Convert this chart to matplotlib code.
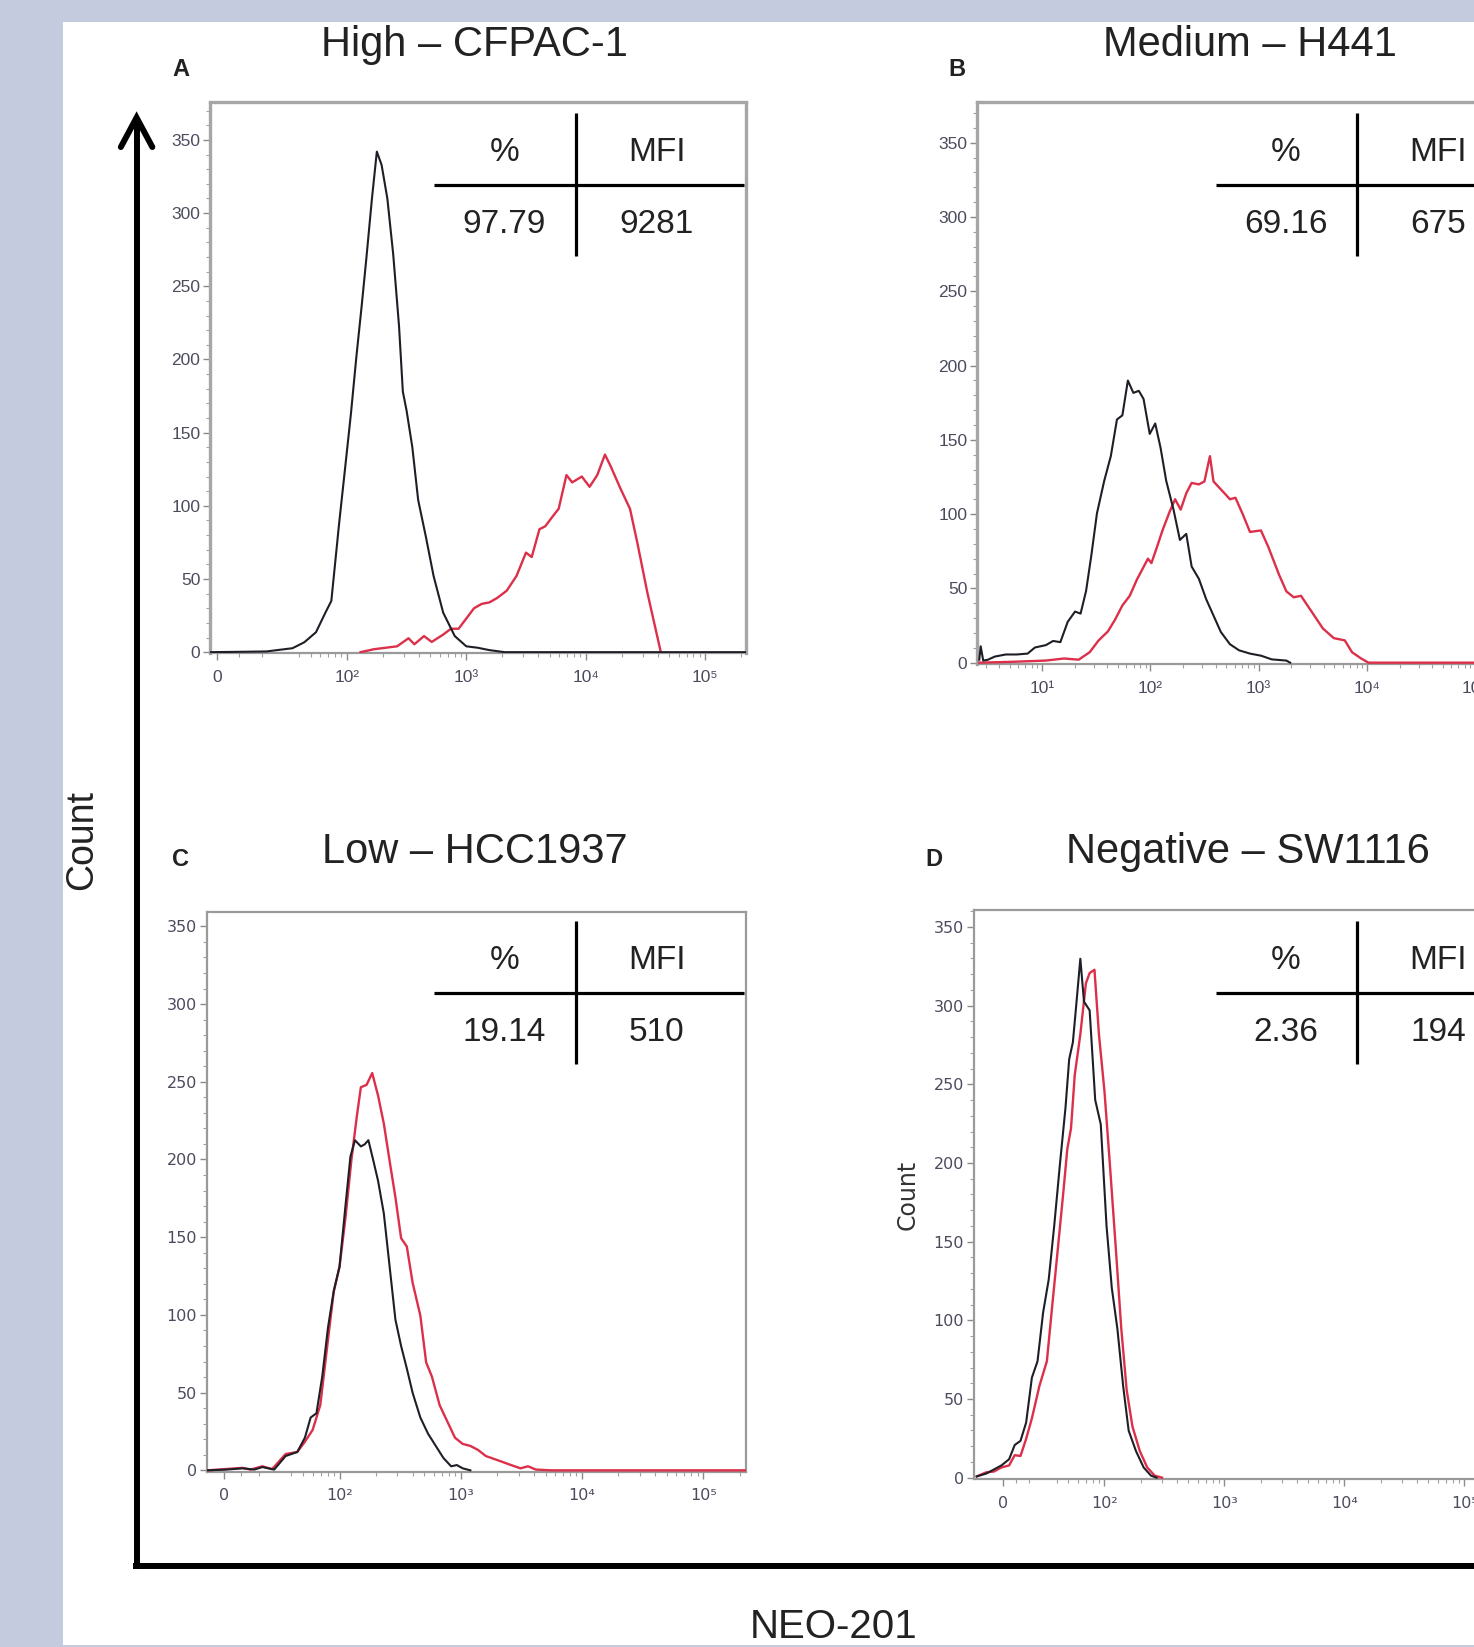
# -*- coding: utf-8 -*-
"""NEO-201 flow cytometry histograms for four cell lines (high / medium / low / negative)."""
import matplotlib
matplotlib.use("Agg")
import matplotlib.pyplot as plt
from matplotlib.patches import Rectangle
from matplotlib.ticker import FixedLocator, MultipleLocator, NullFormatter

# placement grid: pixels of the reference picture, origin top-left
REF_W, REF_H = 1403, 1568

BG_BLUE = "#c5cbdf"
RED = "#dc2f4a"
INK = "#1e1e26"
TICK_INK = "#4b4b5e"

PLAIN = ["DejaVu Sans"]
ARIAL = ["Liberation Sans", "DejaVu Sans"]

# ---------------- data (fluorescence intensity, count) ----------------
# A  High - CFPAC-1
a_iso_x = [-3, 13, 22, 35, 44, 55, 66, 74, 86, 96, 108, 120, 133, 145, 162, 178, 195, 218, 244, 273,
           294, 316, 353, 395, 458, 532, 640, 800, 1000, 1250, 1560, 2100, 220000]
a_iso_y = [0, 0.3, 0.5, 2.7, 6.8, 13.6, 27, 35, 88, 124, 163, 202, 237, 268, 310, 342, 333, 310, 272, 223,
           178, 165, 140, 104, 79, 52, 27, 11, 4, 3, 1.4, 0, 0]
a_neo_x = [130, 168, 210, 263, 328, 367, 442, 513, 640, 743, 862, 1000, 1160, 1346, 1560, 1810, 2180, 2630,
           3160, 3530, 4100, 4580, 5320, 5940, 6900, 7710, 9280, 10780, 12500, 14500, 16200, 19500, 23500,
           27200, 32800, 42600]
a_neo_y = [0, 2, 3, 4, 9.5, 5.4, 11, 7, 12, 16, 16, 23, 30, 33, 34, 37, 42, 52,
           68, 65, 84, 86, 93, 98, 121, 116, 120, 113, 121, 135, 127, 112, 98,
           74, 41, 0]

# B  Medium - H441
b_iso_x = [2.62, 2.7, 2.85, 3.13, 3.65, 4.6, 5.81, 7.33, 8.56, 10.8, 12.6, 14.7, 17.2, 20.1, 22.6, 25.4,
           28.5, 32, 37.4, 43, 49, 55, 61.8, 69.5, 78, 86.3, 98.4, 110.6, 124, 139.6, 163, 187, 214, 240,
           280, 327, 382, 447, 542, 658, 830, 1048, 1320, 1800, 1950]
b_iso_y = [2, 11, 1.4, 1.9, 4.1, 5.5, 5.5, 6.1, 10.2, 11.8, 14.6, 13.8, 27.5, 34.4, 33, 48.2,
           72.9, 100.4, 122.5, 139, 163.7, 166.5, 189.9, 181.6, 183, 177.5, 154, 161, 144.5, 122.5, 103.2,
           82.6, 86.7, 64.7, 56.4, 42.7, 31.7, 20.6, 12.4, 8.3, 6.1, 4.7, 2.2, 1.4, 0]
b_neo_x = [2.62, 4.98, 10.8, 15.9, 21.7, 27.4, 33.2, 40.4, 47.1, 55, 64.3, 75, 84.3, 94.7, 102, 115, 129,
           151, 169, 190, 214, 240, 280, 315, 354, 382, 429, 483, 542, 609, 711, 830, 1048, 1224, 1544,
           1800, 2104, 2456, 3101, 3914, 4939, 6232, 7278, 8830, 10310, 1e6]
b_neo_y = [0, 0.5, 1.4, 2.8, 2, 7, 15, 21, 29, 38.5, 45, 56, 63, 70, 67, 78, 89,
           102, 110, 103, 114, 121, 120, 122, 139, 122, 118, 114, 110, 111, 100, 88, 89, 78, 59,
           48, 44, 45, 34, 23, 16.5, 15, 7, 2.8, 0, 0]

# C  Low - HCC1937
c_iso_x = [-9.5, 1.8, 10.8, 17.6, 22.1, 28.9, 35.9, 44.8, 51.8, 57.8, 64.5, 72, 80.3, 89.6, 100, 112, 123,
           134, 150, 161, 173, 190, 208, 232, 259, 289, 322, 359, 401, 464, 537, 622, 720, 833, 929, 1037,
           1200]
c_iso_y = [0, 0.5, 1.3, 0.5, 2.1, 0.5, 9.2, 11.8, 21, 34, 36.7, 60.3, 91.8, 115.4, 131, 170.4, 201.9,
           212.4, 208.4, 209.7, 212.4, 199.3, 186.2, 165.2, 131, 97, 80, 65.5, 49.8, 34, 23.6, 15.7, 7.9,
           2.6, 3.4, 1.3, 0]
c_neo_x = [-9.5, -2.7, 10.8, 15.3, 22.1, 27.7, 35.9, 44.8, 51.8, 60, 69.4, 80.3, 89.6, 100, 112, 125, 139,
           150, 167, 186, 208, 232, 259, 289, 322, 359, 401, 464, 518, 578, 669, 774, 896, 1037, 1200, 1390,
           1610, 2003, 2496, 3105, 3594, 4160, 5570, 225000]
c_neo_y = [0, 0.5, 1.6, 0.5, 2.6, 0.8, 10.5, 11.8, 18.4, 26, 42, 84, 115, 131, 162.6, 199, 228,
           246.5, 248, 255.6, 241, 223, 199, 175.7, 149.4, 144, 120.6, 99.6, 69.5, 60.3, 42, 31.5, 21, 17,
           15.7, 13.1, 9.2, 6.6, 3.9, 1.3, 2.6, 0.5, 0, 0]

# D  Negative - SW1116
d_iso_x = [-20.8, -13.4, -7.4, -1.5, 4.5, 8.9, 13.4, 17.8, 22.3, 26.7, 30.8, 34.3, 38.1, 42.5, 47.3, 50.8,
           54.5, 58.5, 62.9, 67.5, 75.2, 83.7, 93.1, 104, 115, 128, 143, 159, 183, 212, 244, 272]
d_iso_y = [0.8, 2.6, 5.2, 7.8, 11.7, 20.8, 23.4, 35, 63.6, 74, 105, 126, 160, 199, 235, 266,
           276.6, 302.5, 329.8, 302.5, 297, 240, 224.6, 160, 120.7, 94.8, 58.4, 29.9, 16.9, 6.5, 1.3, 0]
d_neo_x = [-20.8, -13.4, -7.4, -1.5, 4.5, 8.9, 13.4, 17.8, 22.3, 28.2, 33.1, 36.8, 41, 45.6, 49, 52.6,
           56.5, 62.9, 70, 75.2, 82.5, 89.9, 100, 111, 124, 138, 153, 171, 197, 227, 262, 302]
d_neo_y = [0.8, 3.4, 3.9, 6.5, 7.8, 14.3, 13.8, 24.7, 37.7, 58.4, 74, 110.4, 146.7, 183, 209, 222,
           255.8, 281.7, 314.2, 320.7, 322.8, 281.7, 245.4, 198.6, 146.7, 94.8, 55.8, 32.5, 16.9, 6.5, 1.3, 0]

titles = ["High – CFPAC-1", "Medium – H441", "Low – HCC1937", "Negative – SW1116"]
letters = ["A", "B", "C", "D"]
pct_values = ["97.79", "69.16", "19.14", "2.36"]
mfi_values = ["9281", "675", "510", "194"]

count_ticks = [0, 50, 100, 150, 200, 250, 300, 350]
biex_ticks = [0, 1e2, 1e3, 1e4, 1e5]
biex_labels = ["0", "10²", "10³", "10⁴", "10⁵"]
log_ticks = [1e1, 1e2, 1e3, 1e4, 1e5]
log_labels = ["10¹", "10²", "10³", "10⁴", "10⁵"]

PANELS = [
    dict(box=(200, 97, 710, 622), scale="symlog", linscale=0.51, xlim=(-3, 2.2e5), ytop=376,
         iso=(a_iso_x, a_iso_y), neo=(a_neo_x, a_neo_y), dotted=True, font=ARIAL, fs=12.5,
         title_xy=(452, 43), letter_xy=(172, 66), table_xy=(548, 176)),
    dict(box=(930, 97, 1466, 632), scale="log", xlim=(2.5, 3.98e5), ytop=377.5,
         iso=(b_iso_x, b_iso_y), neo=(b_neo_x, b_neo_y), dotted=True, font=ARIAL, fs=12.5,
         title_xy=(1190, 43), letter_xy=(911, 66), table_xy=(1292, 176)),
    dict(box=(197, 868, 710, 1401), scale="symlog", linscale=0.39, xlim=(-9.5, 2.25e5), ytop=359.4,
         iso=(c_iso_x, c_iso_y), neo=(c_neo_x, c_neo_y), dotted=False, font=PLAIN, fs=11.5,
         title_xy=(452, 811), letter_xy=(172, 818), table_xy=(548, 945)),
    dict(box=(927, 866, 1451, 1408), scale="symlog", linscale=0.288, xlim=(-23, 3.16e5), ytop=361,
         iso=(d_iso_x, d_iso_y), neo=(d_neo_x, d_neo_y), dotted=False, font=PLAIN, fs=11.5,
         title_xy=(1188, 811), letter_xy=(889, 818), table_xy=(1292, 945)),
]


def draw_panel(fig, p):
    l, t, r, b = p["box"]
    ax = fig.add_axes([l / REF_W, 1 - b / REF_H, (r - l) / REF_W, (b - t) / REF_H])
    ax.set_facecolor("white")

    if p["scale"] == "log":
        ax.set_xscale("log")
        minors = [k * 10 ** d for d in range(0, 6) for k in range(2, 10)]
        ax.set_xticks(log_ticks, log_labels, fontfamily=p["font"], fontsize=p["fs"])
    else:
        ax.set_xscale("symlog", linthresh=30, linscale=p["linscale"])
        minors = [10, 20] + [k * 10 ** d for d in range(1, 6) for k in range(2, 10) if k * 10 ** d > 30]
        ax.set_xticks(biex_ticks, biex_labels, fontfamily=p["font"], fontsize=p["fs"])
    ax.xaxis.set_minor_locator(FixedLocator(minors))
    ax.xaxis.set_minor_formatter(NullFormatter())
    ax.set_yticks(count_ticks, [str(v) for v in count_ticks], fontfamily=p["font"], fontsize=p["fs"])
    ax.yaxis.set_minor_locator(MultipleLocator(10))

    ax.set_xlim(*p["xlim"])
    ax.set_ylim(-0.8, p["ytop"])

    ax.plot(p["neo"][0], p["neo"][1], color=RED, lw=1.7, zorder=3)
    ax.plot(p["iso"][0], p["iso"][1], color=INK, lw=1.5, zorder=4)

    ax.tick_params(which="major", direction="out", length=5, width=1, color="#8a8a8a",
                   labelcolor=TICK_INK)
    ax.tick_params(which="minor", direction="out", length=3, width=0.8, color="#a0a0a0")
    ax.tick_params(axis="x", which="major", pad=7)
    ax.tick_params(axis="y", which="major", pad=2)

    for side, sp in ax.spines.items():
        sp.set_color("#9a9a9a")
        sp.set_linewidth(1.6)
        if p["dotted"] and side != "bottom":
            sp.set_color("#a6a6a6")
            sp.set_linewidth(2.4)
            sp.set_linestyle((0, (1.2, 0.9)))
    return ax


def draw_table(ov, vx, hy, pct, mfi):
    ov.plot([vx - 135, vx + 160], [hy, hy], color="black", lw=2.3, solid_capstyle="butt")
    ov.plot([vx, vx], [hy - 68, hy + 68], color="black", lw=2.3, solid_capstyle="butt")
    kw = dict(ha="center", va="center", fontsize=24, color="#222222", fontfamily=ARIAL)
    ov.text(vx - 68, hy - 31, "%", **kw)
    ov.text(vx + 77, hy - 31, "MFI", **kw)
    ov.text(vx - 68, hy + 38, pct, **kw)
    ov.text(vx + 77, hy + 38, mfi, **kw)


def main():
    fig = plt.figure(figsize=(14.74, 16.47), dpi=100, facecolor=BG_BLUE)
    fig.add_artist(Rectangle((60 / REF_W, 1 - 1566 / REF_H), 1 - 60 / REF_W, (1566 - 21) / REF_H,
                             transform=fig.transFigure, facecolor="white", edgecolor="none", zorder=-5))

    for p in PANELS:
        draw_panel(fig, p)

    ov = fig.add_axes([0, 0, 1, 1], zorder=10)
    ov.set_xlim(0, REF_W)
    ov.set_ylim(REF_H, 0)
    ov.axis("off")
    ov.patch.set_alpha(0)

    for p, title, letter, pct, mfi in zip(PANELS, titles, letters, pct_values, mfi_values):
        ov.text(*p["title_xy"], title, ha="center", va="center", fontsize=30, color="#222222",
                fontfamily=ARIAL)
        ov.text(*p["letter_xy"], letter, ha="center", va="center", fontsize=17, fontweight="bold",
                color="#222222", fontfamily=ARIAL)
        draw_table(ov, *p["table_xy"], pct, mfi)

    # big Count / NEO-201 axes
    ov.plot([130, 130], [1494, 114], color="black", lw=4.3, solid_capstyle="butt")
    ov.plot([115, 130, 145], [140, 112, 140], color="black", lw=4.3, solid_joinstyle="miter",
            solid_capstyle="round")
    ov.plot([127, 1410], [1491, 1491], color="black", lw=4.3, solid_capstyle="butt")
    ov.text(78, 800, "Count", rotation=90, ha="center", va="center", fontsize=27, color="#222222",
            fontfamily=ARIAL)
    ov.text(793, 1549, "NEO-201", ha="center", va="center", fontsize=29, color="#222222",
            fontfamily=ARIAL)
    ov.text(864, 1138, "Count", rotation=90, ha="center", va="center", fontsize=17, color="#333333",
            fontfamily=PLAIN)

    fig.savefig("out.png", dpi=100, facecolor=BG_BLUE)
    plt.close(fig)


if __name__ == "__main__":
    main()
